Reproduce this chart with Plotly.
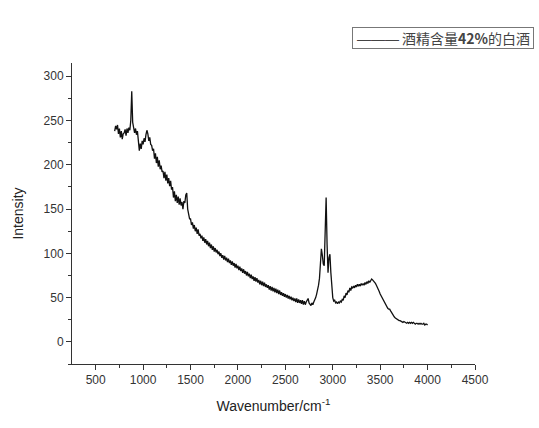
import plotly.graph_objects as go

wavenumber_start = 700
wavenumber_step = 10

intensity = [
    238, 244, 240, 245, 235, 241, 231, 238, 229, 235,
    236, 240, 233, 241, 236, 242, 239, 250, 283, 248,
    242, 236, 241, 234, 238, 229, 216, 224, 218, 227,
    223, 230, 226, 234, 239, 235, 227, 231, 223, 222,
    216, 218, 207, 213, 202, 209, 198, 205, 195, 199,
    192, 193, 185, 192, 182, 189, 179, 185, 176, 182,
    172, 175, 163, 170, 159, 166, 157, 164, 155, 162,
    154, 158, 150, 159, 157, 166, 168, 150, 145, 139,
    139, 132, 135, 128, 132, 125, 129, 122, 127, 120,
    122, 117, 120, 114, 118, 112, 116, 110, 114, 108,
    112, 106, 110, 104, 108, 102, 106, 101, 104, 99,
    102, 97, 100, 95, 98, 93, 97, 92, 95, 90,
    94, 89, 92, 87, 91, 86, 89, 84, 88, 83,
    86, 81, 85, 80, 83, 78, 82, 77, 80, 75,
    79, 74, 77, 72, 76, 71, 74, 69, 73, 68,
    72, 67, 70, 65, 69, 64, 68, 63, 67, 62,
    65, 61, 64, 59, 63, 58, 62, 57, 61, 56,
    60, 55, 59, 54, 58, 53, 56, 52, 55, 51,
    54, 50, 53, 49, 52, 48, 51, 47, 50, 46,
    49, 45, 49, 44, 48, 44, 47, 43, 47, 42,
    46, 42, 45, 47, 49, 44, 43, 41, 44, 42,
    45, 47, 50, 54, 58, 64, 72, 84, 105, 98,
    88, 86, 120, 163, 110, 78, 95, 99, 78, 58,
    50, 46, 47, 44, 45, 43, 45, 44, 46, 45,
    48, 47, 52, 50, 55, 53, 58, 56, 61, 58,
    62, 61, 63, 61, 64, 62, 65, 63, 65, 63,
    66, 64, 66, 64, 67, 65, 68, 66, 69, 67,
    70, 71, 70, 69, 68, 66, 64, 62, 60, 57,
    54, 52, 49, 47, 45, 43, 41, 39, 38, 37,
    37, 35, 33, 31, 30, 28, 27, 26, 25, 25,
    24, 24, 23, 23, 22, 23, 22, 22, 21, 22,
    21, 22, 21, 22, 21, 22, 21, 20, 21, 21,
    20, 21, 20, 21, 20, 20, 21, 19, 20, 20,
    19,
]
wavenumber = [wavenumber_start + i * wavenumber_step for i in range(len(intensity))]

series_name = "酒精含量<b>42%</b>的白酒"
x_ticks = [500, 1000, 1500, 2000, 2500, 3000, 3500, 4000, 4500]
y_ticks = [0, 50, 100, 150, 200, 250, 300]

fig = go.Figure()
fig.add_trace(go.Scatter(
    x=wavenumber, y=intensity, mode="lines", name=series_name,
    line=dict(color="#111111", width=1.3), showlegend=False,
))

font_family = "Liberation Sans, Arial, Noto Sans CJK SC, sans-serif"
axis_common = dict(
    showgrid=False, zeroline=False, showline=True, linecolor="#333333", linewidth=1,
    ticks="outside", ticklen=5, tickcolor="#333333", tickwidth=1,
    tickfont=dict(family=font_family, size=12, color="#333333"),
    mirror=False,
)
fig.update_layout(
    width=539, height=428,
    margin=dict(l=72, r=64, t=63, b=64),
    paper_bgcolor="white", plot_bgcolor="white",
    font=dict(family=font_family, color="#333333"),
    xaxis=dict(
        range=[250, 4500], tickvals=x_ticks,
        minor=dict(tickvals=[750, 1250, 1750, 2250, 2750, 3250, 3750, 4250],
                   ticks="outside", ticklen=3, tickcolor="#333333"),
        title=dict(text="Wavenumber/cm<sup>-1</sup>", font=dict(size=14, family=font_family, color="#222222"), standoff=14),
        **axis_common,
    ),
    yaxis=dict(
        range=[-25, 315], tickvals=y_ticks,
        minor=dict(tickvals=[-25, 25, 75, 125, 175, 225, 275],
                   ticks="outside", ticklen=3, tickcolor="#333333"),
        title=dict(text="Intensity", font=dict(size=14, family=font_family, color="#222222"), standoff=16),
        **axis_common,
    ),
    showlegend=False,
)

# legend drawn as a bordered text box (series name as real text)
fig.add_annotation(
    xref="paper", yref="paper", x=1.146, y=1.12, xanchor="right", yanchor="top",
    text="<span style='font-family:Liberation Sans'> ———</span> " + series_name + " ",
    showarrow=False, align="left",
    font=dict(family="Noto Sans CJK SC, Liberation Sans, sans-serif", size=14, color="#444444"),
    bordercolor="#777777", borderwidth=1, borderpad=0, bgcolor="white",
)

fig.write_html("out.html")
